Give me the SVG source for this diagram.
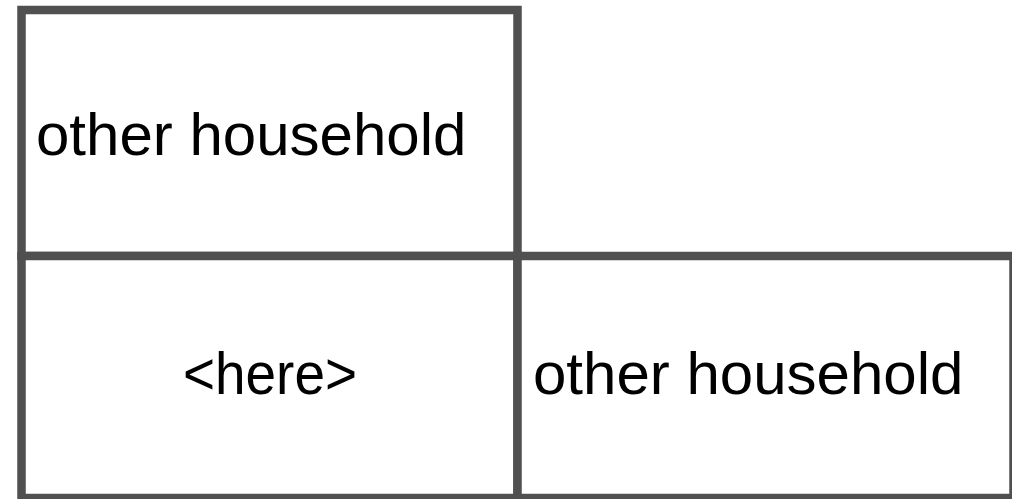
<svg xmlns="http://www.w3.org/2000/svg" width="1012" height="499" viewBox="0 0 1012 499">
<style>
.box{fill:#ffffff;stroke:#505050;stroke-width:8.5}
.lbl{font-family:"Liberation Sans",Arial,sans-serif;font-size:60px;fill:#000000}
</style>
<rect x="0" y="0" width="1012" height="499" fill="#ffffff"/>
<g id="top-household">
<rect class="box" x="21.5" y="10" width="496" height="246"/>
<text class="lbl" x="36" y="155">other household</text>
</g>
<g id="here">
<rect class="box" x="21.5" y="256" width="496" height="242"/>
<text class="lbl" x="183" y="394" textLength="174" lengthAdjust="spacingAndGlyphs">&lt;here&gt;</text>
</g>
<g id="right-household">
<rect class="box" x="517.5" y="256" width="496" height="242"/>
<text class="lbl" x="533" y="394">other household</text>
</g>
<g id="connectors"/>
</svg>
